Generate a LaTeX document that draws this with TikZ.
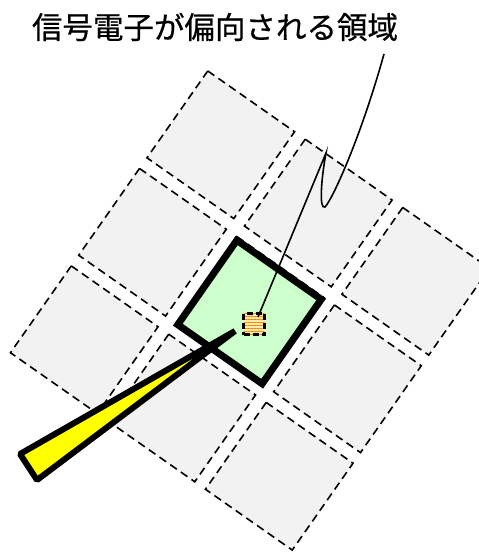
\documentclass[tikz,border=0pt]{standalone}
\usepackage{fontspec}
\newfontfamily\jpfont[FakeBold=0.6]{Noto Sans CJK JP}
\usetikzlibrary{patterns.meta, positioning}
\definecolor{CellGray}{RGB}{242,242,242}
\definecolor{RegionGreen}{RGB}{204,255,204}
\definecolor{BeamYellow}{RGB}{255,255,0}
\definecolor{SpotOrange}{RGB}{255,128,0}
\definecolor{SpotCream}{RGB}{255,236,170}

\begin{document}
\begin{tikzpicture}[x=1pt,y=-1pt,
    cell/.style={draw=black,fill=CellGray,line width=1.6pt,
                 dash pattern=on 8pt off 5pt},
    region/.style={draw=black,fill=RegionGreen,line width=7pt,
                   minimum size=103pt,inner sep=0pt},
    spot/.style={draw=black,line width=2.8pt,dash pattern=on 6pt off 3pt,
                 minimum size=21pt,inner sep=0pt,preaction={fill=SpotCream},
                 pattern={Lines[angle=0,distance=3pt,line width=1pt]},
                 pattern color=SpotOrange},
    beam/.style={draw=black,fill=BeamYellow,line width=6pt,line join=bevel},
    callout/.style={draw=black,line width=1.6pt}
  ]
  \useasboundingbox (0,0) rectangle (479,554);
  % 3x3 detector cells
  \begin{scope}[shift={(250,310.5)},rotate=-35]
    \foreach \i in {-1,0,1}
      \foreach \j in {-1,0,1}
        \draw[cell] (\i*119-53,\j*119-53) rectangle ++(106,106);
  \end{scope}
  \node[region,rotate=-35] (area) at (249.5,312) {};
  % incoming beam
  \coordinate (beamtip) at (235,331);
  \coordinate (beamleft) at (20,454);
  \coordinate (beamright) at (37,480);
  \draw[beam] (beamtip) -- (beamleft) -- (beamright) -- cycle;
  \node[spot] (spot) at (254,324) {};
  \node[font=\jpfont\fontsize{30.5}{36}\selectfont,inner sep=0pt] (lbl)
    at (215,27) {信号電子が偏向される領域};
  % callout
  \coordinate (lblfoot) at (384,54);
  \coordinate (bendtop) at (326,153);
  \coordinate (bendlow) at (325,207);
  \draw[callout] (lblfoot) .. controls (360,140) and (332,200) .. (bendlow)
    .. controls (319,210) and (321,180) .. (bendtop)
    -- ([shift={(4,-7)}]spot.center);
\end{tikzpicture}
\end{document}
